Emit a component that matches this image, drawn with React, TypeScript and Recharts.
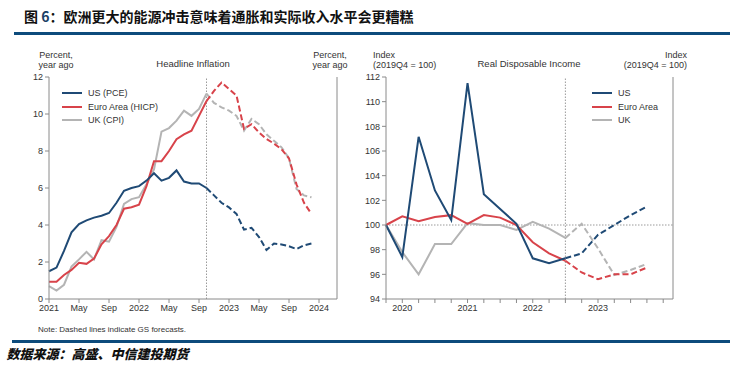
import React from 'react';
import { LineChart, Line, XAxis, YAxis, ReferenceLine } from 'recharts';

// Headline inflation, monthly Jan 2021 - Dec 2023 (percent, year ago)
const monthTickLabels = ['2021', 'May', 'Sep', '2022', 'May', 'Sep', '2023', 'May', 'Sep', '2024'];
const usPce = [1.5, 1.7, 2.6, 3.6, 4.05, 4.25, 4.4, 4.5, 4.65, 5.2, 5.85, 6.0, 6.1, 6.4, 6.8, 6.4, 6.55, 6.95, 6.35, 6.25, 6.25, 6.0,
  5.6, 5.2, 4.95, 4.6, 3.75, 3.85, 3.35, 2.65, 3.0, 2.95, 2.85, 2.7, 2.9, 3.0];
const euroHicp = [0.93, 0.93, 1.3, 1.57, 1.96, 1.9, 2.18, 2.96, 3.4, 4.0, 4.88, 4.96, 5.1, 6.1, 7.45, 7.45, 8.0, 8.64, 8.9, 9.1, 9.9, 10.7,
  11.25, 11.7, 11.35, 11.0, 9.2, 9.45, 9.0, 8.65, 8.4, 8.1, 7.6, 6.2, 5.2, 4.6];
const ukCpi = [0.7, 0.46, 0.77, 1.75, 2.14, 2.55, 2.14, 3.18, 3.1, 3.9, 5.14, 5.4, 5.5, 6.2, 7.0, 9.05, 9.24, 9.64, 10.18, 9.9, 10.27, 11.1,
  10.6, 10.36, 10.18, 9.9, 9.1, 9.73, 9.45, 8.9, 8.55, 8.2, 7.6, 5.95, 5.6, 5.5];
const inflationForecastStart = 21; // Oct 2022
const inflationTicks = [0, 2, 4, 6, 8, 10, 12];

// Real disposable income, quarterly 2019Q4 - 2023Q4 (index, 2019Q4 = 100)
const quarters = ['2019Q4', '2020Q1', '2020Q2', '2020Q3', '2020Q4', '2021Q1', '2021Q2', '2021Q3', '2021Q4',
  '2022Q1', '2022Q2', '2022Q3', '2022Q4', '2023Q1', '2023Q2', '2023Q3', '2023Q4'];
const usRdi = [100, 97.4, 107.15, 102.8, 100.4, 111.5, 102.5, 101.3, 100.1, 97.3, 96.9, 97.3, 97.7, 99.2, 100.0, 100.8, 101.5];
const euroRdi = [100, 100.7, 100.3, 100.65, 100.8, 100.1, 100.8, 100.6, 100.0, 98.6, 97.7, 97.1, 96.15, 95.6, 96.0, 96.0, 96.55];
const ukRdi = [100, 97.8, 96.0, 98.45, 98.45, 100.15, 100.0, 100.0, 99.6, 100.25, 99.7, 98.95, 100.1, 98.1, 95.95, 96.35, 96.85];
const incomeForecastStart = 11; // 2022Q3
const incomeTicks = [94, 96, 98, 100, 102, 104, 106, 108, 110, 112];

const BLUE = '#1f4a75';
const RED = '#d8434a';
const GREY = '#b4b4b4';
const RULE = '#0d4b7c';
const FONT = '"Liberation Sans", Arial, sans-serif';
const tickStyle = { fontSize: 9, fill: '#333', fontFamily: FONT };
const axisStroke = '#8a8a8a';

const splitRows = (n: number, fcStart: number, series: Record<string, number[]>) =>
  Array.from({ length: n }, (_, i) => {
    const row: Record<string, number | null> = { x: i };
    Object.entries(series).forEach(([k, v]) => {
      row[k + 'A'] = i <= fcStart ? v[i] : null;
      row[k + 'F'] = i >= fcStart ? v[i] : null;
    });
    return row;
  });

const inflationRows = splitRows(usPce.length, inflationForecastStart, { us: usPce, eu: euroHicp, uk: ukCpi });
const incomeRows = splitRows(quarters.length, incomeForecastStart, { us: usRdi, eu: euroRdi, uk: ukRdi });

const seriesLines = (yAxisId: string) =>
  [
    ['uk', GREY],
    ['eu', RED],
    ['us', BLUE],
  ].flatMap(([k, c]) => [
    <Line key={k + 'A'} yAxisId={yAxisId} dataKey={k + 'A'} stroke={c} strokeWidth={2} dot={false} isAnimationActive={false} connectNulls={false} />,
    <Line key={k + 'F'} yAxisId={yAxisId} dataKey={k + 'F'} stroke={c} strokeWidth={2} strokeDasharray="6 3" dot={false} isAnimationActive={false} connectNulls={false} />,
  ]);

const Abs = ({ left, top, children, style }: any) => (
  <div style={{ position: 'absolute', left, top, fontFamily: FONT, fontSize: 9, color: '#333', lineHeight: '10px', whiteSpace: 'nowrap', ...style }}>
    {children}
  </div>
);

const LegendBox = ({ left, top, items }: { left: number; top: number; items: [string, string][] }) => (
  <>
    {items.map(([label, color], i) => (
      <div key={label} style={{ position: 'absolute', left, top: top + i * 13.5 - 6, height: 12, display: 'flex', alignItems: 'center' }}>
        <div style={{ width: 20, height: 2, background: color, marginRight: 6 }} />
        <span style={{ fontFamily: FONT, fontSize: 9, color: '#333' }}>{label}</span>
      </div>
    ))}
  </>
);

export default function App() {
  return (
    <div style={{ position: 'absolute', left: 0, top: 0, width: 744, height: 376, background: '#fff', overflow: 'hidden' }}>
      <div style={{ position: 'absolute', left: 24, top: 8, fontFamily: '"Noto Sans CJK SC", sans-serif', fontWeight: 700, fontSize: 14, lineHeight: '16px', color: '#111' }}>
        图 <span style={{ color: '#1b3f66' }}>6</span>：欧洲更大的能源冲击意味着通胀和实际收入水平会更糟糕
      </div>
      <div style={{ position: 'absolute', left: 14, top: 32, width: 716, height: 3, background: RULE }} />

      {/* left panel */}
      <div style={{ position: 'absolute', left: 0, top: 0 }}>
        <LineChart width={380} height={340} data={inflationRows} margin={{ top: 77, right: 13, bottom: 21, left: 19 }}>
          <XAxis
            type="number"
            dataKey="x"
            domain={[0, 38.4]}
            ticks={[0, 4, 8, 12, 16, 20, 24, 28, 32, 36]}
            tickFormatter={(v: number) => monthTickLabels[v / 4]}
            interval={0}
            tick={tickStyle}
            stroke={axisStroke}
            tickSize={4}
            height={20}
          />
          <YAxis yAxisId="l" domain={[0, 12]} ticks={inflationTicks} interval={0} tick={tickStyle} stroke={axisStroke} tickSize={4} width={30} />
          <YAxis yAxisId="r" orientation="right" domain={[0, 12]} ticks={inflationTicks} interval={0} tick={tickStyle} stroke={axisStroke} tickSize={4} width={30} />
          <ReferenceLine yAxisId="l" x={inflationForecastStart} stroke="#9a9a9a" strokeDasharray="1.5 1.5" />
          {seriesLines('l')}
        </LineChart>
      </div>

      {/* right panel */}
      <div style={{ position: 'absolute', left: 340, top: 0 }}>
        <LineChart width={404} height={340} data={incomeRows} margin={{ top: 77, right: 41, bottom: 21, left: 16 }}>
          <XAxis
            type="number"
            dataKey="x"
            domain={[0, 17.6]}
            ticks={quarters.map((_, i) => i).concat([17])}
            tickFormatter={(v: number) => (quarters[v] && quarters[v].endsWith('Q1') ? quarters[v].slice(0, 4) : '')}
            interval={0}
            tick={tickStyle}
            stroke={axisStroke}
            tickSize={4}
            height={20}
          />
          <YAxis yAxisId="l" domain={[94, 112]} ticks={incomeTicks} interval={0} tick={tickStyle} stroke={axisStroke} tickSize={4} width={30} />
          <YAxis yAxisId="r" orientation="right" domain={[94, 112]} ticks={incomeTicks} interval={0} tick={tickStyle} stroke={axisStroke} tickSize={4} width={30} />
          <ReferenceLine yAxisId="l" y={100} stroke="#9a9a9a" strokeDasharray="1.5 1.5" />
          <ReferenceLine yAxisId="l" x={incomeForecastStart} stroke="#9a9a9a" strokeDasharray="1.5 1.5" />
          {seriesLines('l')}
        </LineChart>
      </div>

      {/* panel texts */}
      <Abs left={26} top={50} style={{ width: 60, textAlign: 'center' }}>Percent,<br />year ago</Abs>
      <Abs left={300} top={50} style={{ width: 60, textAlign: 'center' }}>Percent,<br />year ago</Abs>
      <Abs left={143} top={59} style={{ width: 100, textAlign: 'center', fontSize: 9.5 }}>Headline Inflation</Abs>
      <Abs left={373} top={50}>Index<br />(2019Q4 = 100)</Abs>
      <Abs left={607} top={50} style={{ width: 80, textAlign: 'right' }}>Index<br />(2019Q4 = 100)</Abs>
      <Abs left={469} top={59} style={{ width: 120, textAlign: 'center', fontSize: 9.5 }}>Real Disposable Income</Abs>

      <LegendBox left={62} top={93} items={[['US (PCE)', BLUE], ['Euro Area (HICP)', RED], ['UK (CPI)', GREY]]} />
      <LegendBox left={592} top={93} items={[['US', BLUE], ['Euro Area', RED], ['UK', GREY]]} />

      <Abs left={38} top={325} style={{ fontSize: 8 }}>Note: Dashed lines indicate GS forecasts.</Abs>
      <div style={{ position: 'absolute', left: 12, top: 340, width: 718, height: 3, background: RULE }} />
      <div
        style={{
          position: 'absolute', left: 6, top: 346, fontFamily: '"Noto Sans CJK SC", sans-serif', fontWeight: 900,
          fontSize: 13, lineHeight: '15px', color: '#111', transform: 'skewX(-14deg)', transformOrigin: 'left bottom',
        }}
      >
        数据来源：高盛、中信建投期货
      </div>
    </div>
  );
}
